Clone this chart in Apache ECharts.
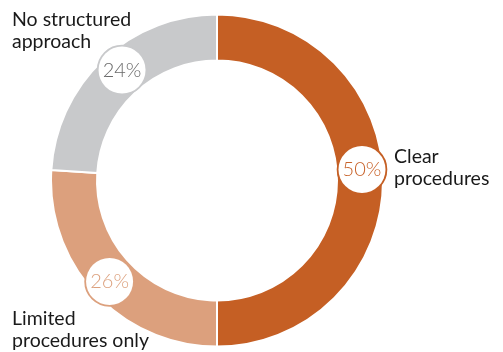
<!DOCTYPE html>
<html>
<head>
<meta charset="utf-8">
<script src="https://cdn.jsdelivr.net/npm/echarts@6/dist/echarts.min.js"></script>
<style>
  html, body { margin: 0; padding: 0; background: #fff; }
  #chart { width: 503px; height: 352px; }
</style>
</head>
<body>
<div id="chart"></div>
<script>
// data
var categories = ['Clear procedures', 'Limited procedures only', 'No structured approach'];
var shares = [50, 26, 24];
var sliceColors = ['#c55f24', '#dca07d', '#c8c9cb'];
var pctColors = ['#c8632b', '#dca07d', '#6a6a6a'];
// small nudges of the percent bubbles (designer placed them by hand)
var bubbleOffsets = [[-1, -11], [-1, 1], [5, -4]];

window.onload = function () {
    var myChart = echarts.init(document.getElementById('chart'), null, { renderer: 'canvas' });

    var seriesData = categories.map(function (name, i) {
        return {
            name: name,
            value: shares[i],
            itemStyle: { color: sliceColors[i] },
            label: {
                color: pctColors[i],
                borderColor: sliceColors[i],
                offset: bubbleOffsets[i]
            }
        };
    });

    var textStyle = { fontFamily: 'Lato', fontSize: 19.5, lineHeight: 22, fill: '#1a1a1a' };

    var option = {
        animation: false,
        graphic: [
            { type: 'text', left: 12, top: 9, style: Object.assign({ text: 'No structured\napproach' }, textStyle) },
            { type: 'text', left: 394, top: 146, style: Object.assign({ text: 'Clear\nprocedures' }, textStyle) },
            { type: 'text', left: 12, top: 308, style: Object.assign({ text: 'Limited\nprocedures only' }, textStyle) }
        ],
        series: [
            {
                type: 'pie',
                center: [217, 180.5],
                radius: [120, 166],
                startAngle: 90,
                clockwise: true,
                silent: true,
                itemStyle: { borderColor: '#fff', borderWidth: 2 },
                label: {
                    show: true,
                    position: 'inside',
                    formatter: '{c}%',
                    fontFamily: 'Lato',
                    fontWeight: 300,
                    fontSize: 20,
                    width: 47,
                    height: 47,
                    lineHeight: 47,
                    align: 'center',
                    verticalAlign: 'middle',
                    backgroundColor: '#fff',
                    borderWidth: 1.8,
                    borderRadius: 25
                },
                labelLine: { show: false },
                data: seriesData
            }
        ]
    };

    myChart.setOption(option);
};
</script>
</body>
</html>
